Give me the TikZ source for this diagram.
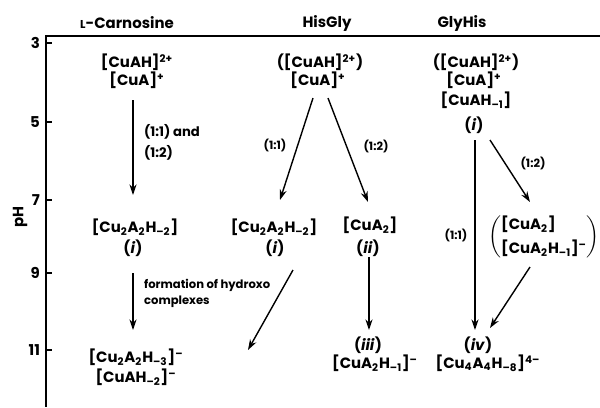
\documentclass[tikz,border=0pt]{standalone}
\usepackage{fontspec}
\setmainfont{Poppins}
\usetikzlibrary{arrows.meta, positioning, calc}
\newcommand{\sbs}[1]{\textsubscript{#1}}
\newcommand{\sps}[1]{\textsuperscript{#1}}

\begin{document}
\begin{tikzpicture}[x=0.02cm, y=-0.02cm,
    sp/.style={font=\bfseries\fontsize{8.5}{10}\selectfont, inner sep=1pt},
    hd/.style={font=\bfseries\fontsize{8.5}{10}\selectfont, inner sep=1pt},
    nt/.style={font=\bfseries\fontsize{6.5}{8}\selectfont, inner sep=1pt, anchor=west},
    arr/.style={line width=0.8pt, -{Stealth[length=6pt,width=4pt]}},
    ax/.style={line width=1.1pt}]
  \useasboundingbox (0,0) rectangle (600,407);
  % axes
  \coordinate (o) at (46,36);
  \coordinate (xr) at (600,36);
  \coordinate (yb) at (46,407);
  \draw[ax] (xr) -- (o) -- (yb);
  \foreach \v/\y in {3/43,5/122,7/200,9/273,11/350} {
    \draw[ax] (46,\y) -- (52,\y);
    \node[hd, anchor=east] (t\v) at (42,\y) {\v};
  }
  \node[hd, rotate=90] (ph) at (20,217) {pH};
  % column titles
  \node[hd] (carn) at (127,23) {{\fontsize{6.5}{8}\selectfont L}-Carnosine};
  \node[hd] (hisgly) at (327,23) {HisGly};
  \node[hd] (glyhis) at (462,23) {GlyHis};
  % L-carnosine
  \node[sp] (ca1) at (137,62) {[CuAH]\sps{2+}};
  \node[sp] (ca2) at (137,80) {[CuA]\sps{+}};
  \node[sp] (ca3) at (135,227) {[Cu\sbs{2}A\sbs{2}H\sbs{–2}]};
  \node[sp] (ca3n) at (133,248) {(\textit{i})};
  \node[sp] (ca4) at (136,357) {[Cu\sbs{2}A\sbs{2}H\sbs{–3}]\sps{–}};
  \node[sp] (ca5) at (136,377) {[CuAH\sbs{–2}]\sps{–}};
  \node[nt, font=\bfseries\fontsize{7.5}{9}\selectfont] (ca12a) at (142,132) {(1:1) and};
  \node[nt, font=\bfseries\fontsize{7.5}{9}\selectfont] (ca12b) at (142,153) {(1:2)};
  \node[nt, font=\bfseries\fontsize{6.6}{8}\selectfont] (cahya) at (142,285) {formation of hydroxo};
  \node[nt, font=\bfseries\fontsize{6.6}{8}\selectfont] (cahyb) at (142,302) {complexes};
  \draw[arr] ($(ca2)+(-4,20)$) -- ($(ca3)+(-2,-32)$);
  \draw[arr] ($(ca3n)+(0,25)$) -- ($(ca4)+(-3,-27)$);
  % HisGly
  \node[sp] (hb1) at (320,62) {([CuAH]\sps{2+})};
  \node[sp] (hb2) at (318,80) {[CuA]\sps{+}};
  \node[sp] (hb3) at (274,227) {[Cu\sbs{2}A\sbs{2}H\sbs{–2}]};
  \node[sp] (hb3n) at (275,248) {(\textit{i})};
  \node[sp] (hb4) at (370,225) {[CuA\sbs{2}]};
  \node[sp] (hb4n) at (368,248) {(\textit{ii})};
  \node[sp] (hb5n) at (368,345) {(\textit{iii})};
  \node[sp] (hb5) at (375,363) {[CuA\sbs{2}H\sbs{–1}]\sps{–}};
  \node[nt, anchor=center] (hb11) at (275,145) {(1:1)};
  \node[nt, anchor=center] (hb12) at (376,146) {(1:2)};
  \coordinate (hbend) at (248,350);
  \draw[arr] ($(hb2)+(-5,18)$) -- ($(hb3)+(6,-27)$);
  \draw[arr] ($(hb2)+(10,18)$) -- ($(hb4)+(-2,-23)$);
  \draw[arr] ($(hb4n)+(1,9)$) -- ($(hb5n)+(1,-15)$);
  \draw[arr] ($(hb3n)+(18,22)$) -- (hbend);
  % GlyHis
  \node[sp] (gh1) at (476,62) {([CuAH]\sps{2+})};
  \node[sp] (gh2) at (474,80) {[CuA]\sps{+}};
  \node[sp] (gh3) at (476,100) {[CuAH\sbs{–1}]};
  \node[sp] (gh3n) at (474,125) {(\textit{i})};
  \node[sp] (gh4) at (544,237) {$\left(\begin{tabular}{@{}l@{}}[CuA\sbs{2}]\\[3pt]
    [CuA\sbs{2}H\sbs{–1}]\sps{–}\end{tabular}\right)$};
  \node[sp] (gh5n) at (478,345) {(\textit{iv})};
  \node[sp] (gh5) at (488,363) {[Cu\sbs{4}A\sbs{4}H\sbs{–8}]\sps{4–}};
  \node[nt, anchor=center] (gh11) at (456,235) {(1:1)};
  \node[nt, anchor=center] (gh12) at (533,163) {(1:2)};
  \draw[arr] ($(gh3n)+(1,15)$) -- ($(gh5n)+(-3,-15)$);
  \draw[arr] ($(gh3n)+(16,15)$) -- ($(gh4)+(-14,-35)$);
  \draw[arr] ($(gh4)+(-14,30)$) -- ($(gh5n)+(12,-17)$);
\end{tikzpicture}
\end{document}
